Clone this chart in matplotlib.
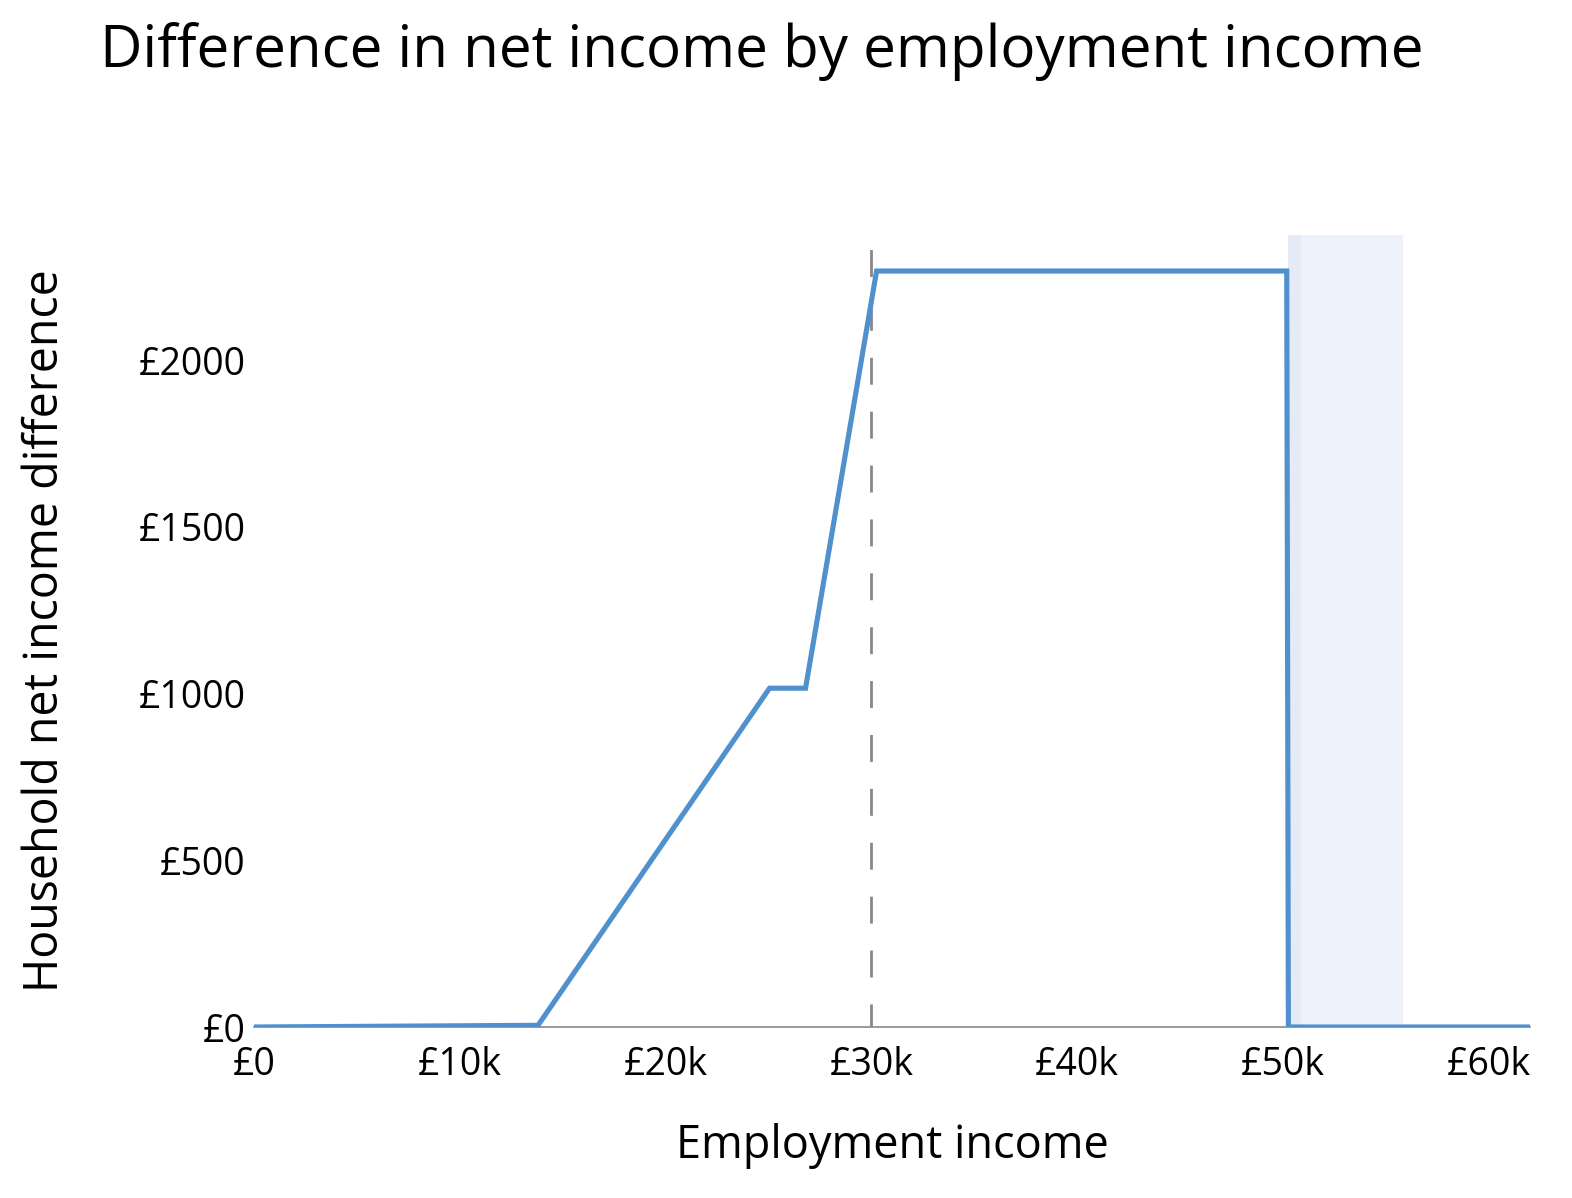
import matplotlib
matplotlib.use("Agg")
import matplotlib.pyplot as plt

plt.rcParams['font.family'] = ['Open Sans', 'DejaVu Sans']

# Data
income = [0, 13800, 25050, 26800, 30250, 50180, 50260, 62000]
net_diff = [0, 5, 1016, 1016, 2267, 2267, 0, 0]
xticks = [0, 10000, 20000, 30000, 40000, 50000, 60000]
xtick_labels = ["£0", "£10k", "£20k", "£30k", "£40k", "£50k", "£60k"]
yticks = [0, 500, 1000, 1500, 2000]
ytick_labels = ["£0", "£500", "£1000", "£1500", "£2000"]
current_income = 30000
shade_dark = (50250, 50850)
shade_light = (50850, 55850)

W, H = 1572, 1198
fig = plt.figure(figsize=(W/100, H/100), dpi=100)
left, right, top, bottom = 254, 1530, 235, 1027
ax = fig.add_axes([left/W, 1 - bottom/H, (right-left)/W, (bottom-top)/H])

ax.axvspan(*shade_dark, color='#e4ebf6', lw=0, zorder=0)
ax.axvspan(*shade_light, color='#edf2fa', lw=0, zorder=0)
ax.axvline(current_income, color='#888888', lw=2, ls=(1.4, (9.7, 9.7)), zorder=1)
ax.plot(income, net_diff, color='#5091cd', lw=3.7, zorder=3, solid_joinstyle='miter')

ax.set_xlim(0, 62000)
ax.set_ylim(0, 2375)
ax.set_xticks(xticks)
ax.set_xticklabels(xtick_labels, fontsize=27)
ax.set_yticks(yticks)
ax.set_yticklabels(ytick_labels, fontsize=27)
ax.tick_params(axis='y', length=0, pad=6)
ax.tick_params(axis='x', length=0, pad=14)
for s in ['top', 'right', 'left']:
    ax.spines[s].set_visible(False)
ax.spines['bottom'].set_color('#888888')
ax.spines['bottom'].set_linewidth(1.2)

ax.set_xlabel("Employment income", fontsize=32.5, labelpad=28)
ax.set_ylabel("Household net income difference", fontsize=33.5, labelpad=50)

fig.text(100/W, 1 - 52/H, "Difference in net income by employment income",
         fontsize=42, ha='left', va='center')

fig.savefig("out.png", dpi=100)
